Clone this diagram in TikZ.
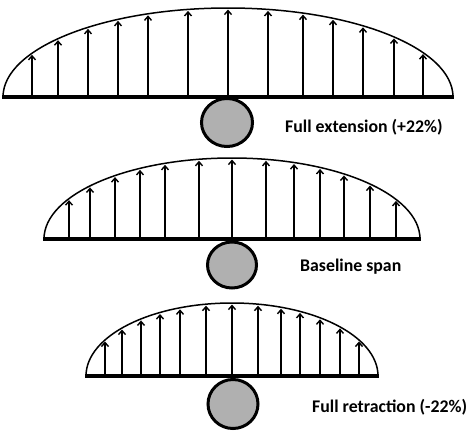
\documentclass[tikz,border=0pt]{standalone}
\usepackage{fontspec}
\setmainfont{Carlito}
\usetikzlibrary{arrows.meta,shapes.geometric}
\tikzset{
  base/.style={line width=3.2pt},
  arcline/.style={line width=1.5pt},
  uparrow/.style={line width=1.6pt,-{Straight Barb[length=4pt,width=7pt,line width=1.4pt]}},
  roller/.style={draw=black,line width=3pt,fill=gray!62},
  lbl/.style={font=\bfseries\fontsize{17.8pt}{20pt}\selectfont,anchor=west,inner sep=0pt}
}
\begin{document}
\begin{tikzpicture}[x=1pt,y=-1pt]
\useasboundingbox (0,0) rectangle (474,437);
% generic panel: #1 cx, #2 half width, #3 base y, #4 height, #5 list of arrow x
\newcommand{\bowpanel}[5]{%
  \draw[arcline] ({#1-#2},#3) arc[start angle=180,end angle=0,x radius=#2,y radius=-#4];
  \foreach \ax in {#5} {
    \pgfmathsetmacro{\ty}{#3-#4*sqrt(max(0,1-((\ax-#1)/#2)^2))+1.5}
    \draw[uparrow] (\ax,#3) -- (\ax,\ty);
  }
  \draw[base] ({#1-#2-1},#3) -- ({#1+#2+1},#3);
}
\bowpanel{228}{225}{97}{89}{32,58,88,118,148,188,228,268,303,333,363,394,423}
\node[roller,ellipse,minimum width=51pt,minimum height=48pt,inner sep=0pt] (r1) at (227,122.5) {};
\node[lbl] (t1) at (285,127) {Full extension (+22\%)};

\bowpanel{232}{188}{239}{81}{69,90,115,140,165,199,232,266,294,320,344,370,396}
\node[roller,ellipse,minimum width=49pt,minimum height=46pt,inner sep=0pt] (r2) at (232,265) {};
\node[lbl] (t2) at (300,267) {Baseline span};

\bowpanel{232}{146}{376}{73}{105,122,141,160,180,206,232,258,281,300,320,340,359}
\node[roller,ellipse,minimum width=50pt,minimum height=49pt,inner sep=0pt] (r3) at (233,404) {};
\node[lbl] (t3) at (312,407) {Full retraction (-22\%)};
\end{tikzpicture}
\end{document}
